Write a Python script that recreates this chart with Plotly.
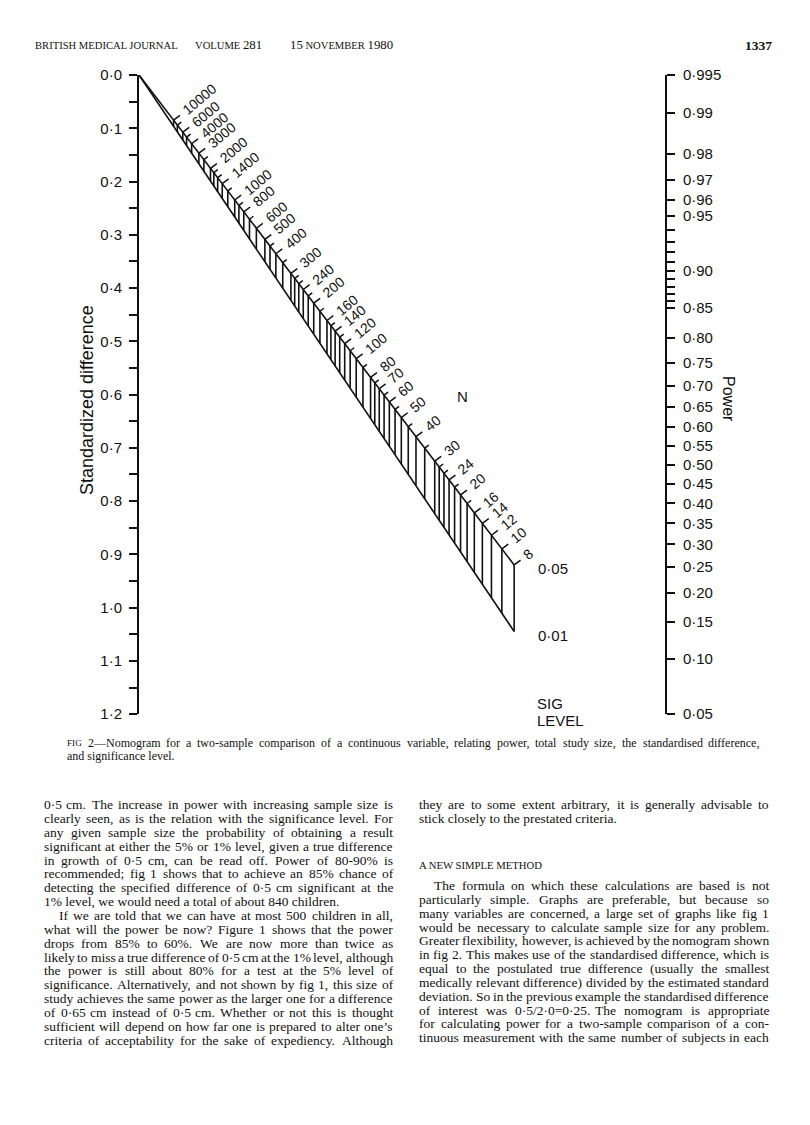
import math
from statistics import NormalDist
import plotly.graph_objects as go

# ---------------- data ----------------
delta_major = [0.0, 0.1, 0.2, 0.3, 0.4, 0.5, 0.6, 0.7, 0.8, 0.9, 1.0, 1.1, 1.2]
delta_labels = ["0·0", "0·1", "0·2", "0·3", "0·4", "0·5", "0·6", "0·7", "0·8", "0·9", "1·0", "1·1", "1·2"]
delta_minor = [0.05, 0.15, 0.25, 0.35, 0.45, 0.55, 0.65, 0.75, 0.85, 0.95, 1.05, 1.15]

power_major = [0.995, 0.99, 0.98, 0.97, 0.96, 0.95, 0.90, 0.85, 0.80, 0.75, 0.70, 0.65,
               0.60, 0.55, 0.50, 0.45, 0.40, 0.35, 0.30, 0.25, 0.20, 0.15, 0.10, 0.05]
power_labels = ["0·995", "0·99", "0·98", "0·97", "0·96", "0·95", "0·90", "0·85", "0·80", "0·75",
                "0·70", "0·65", "0·60", "0·55", "0·50", "0·45", "0·40", "0·35", "0·30", "0·25",
                "0·20", "0·15", "0·10", "0·05"]
power_minor = [0.94, 0.93, 0.92, 0.91, 0.89, 0.88, 0.87, 0.86]

n_major = [10000, 6000, 4000, 3000, 2000, 1400, 1000, 800, 600, 500, 400, 300, 240, 200,
           160, 140, 120, 100, 80, 70, 60, 50, 40, 30, 24, 20, 16, 14, 12, 10, 8]
n_minor = [8000, 5000, 2500, 1800, 1600, 1200, 900, 700, 450, 350, 280, 260, 220, 180,
           150, 130, 110, 90, 75, 65, 55, 45, 35, 28, 26, 22, 18]
sig_levels = [0.05, 0.01]
sig_labels = ["0·05", "0·01"]

header_left = ["BRITISH MEDICAL JOURNAL", "VOLUME", "281", "15", "NOVEMBER", "1980"]
page_number = "1337"
caption_lines = [
    "FIG 2—Nomogram for a two-sample comparison of a continuous variable, relating power, total study size, the standardised difference,",
    "and significance level.",
]
left_col = [
    ("0·5 cm. The increase in power with increasing sample size is", "j"),
    ("clearly seen, as is the relation with the significance level. For", "j"),
    ("any given sample size the probability of obtaining a result", "j"),
    ("significant at either the 5% or 1% level, given a true difference", "j"),
    ("in growth of 0·5 cm, can be read off. Power of 80-90% is", "j"),
    ("recommended; fig 1 shows that to achieve an 85% chance of", "j"),
    ("detecting the specified difference of 0·5 cm significant at the", "j"),
    ("1% level, we would need a total of about 840 children.", "e"),
    ("If we are told that we can have at most 500 children in all,", "ij"),
    ("what will the power be now? Figure 1 shows that the power", "j"),
    ("drops from 85% to 60%. We are now more than twice as", "j"),
    ("likely to miss a true difference of 0·5 cm at the 1% level, although", "j"),
    ("the power is still about 80% for a test at the 5% level of", "j"),
    ("significance. Alternatively, and not shown by fig 1, this size of", "j"),
    ("study achieves the same power as the larger one for a difference", "j"),
    ("of 0·65 cm instead of 0·5 cm. Whether or not this is thought", "j"),
    ("sufficient will depend on how far one is prepared to alter one’s", "j"),
    ("criteria of acceptability for the sake of expediency. Although", "j"),
]
right_col_top = [
    ("they are to some extent arbitrary, it is generally advisable to", "j"),
    ("stick closely to the prestated criteria.", "e"),
]
section_heading = "A NEW SIMPLE METHOD"
right_col = [
    ("The formula on which these calculations are based is not", "ij"),
    ("particularly simple. Graphs are preferable, but because so", "j"),
    ("many variables are concerned, a large set of graphs like fig 1", "j"),
    ("would be necessary to calculate sample size for any problem.", "j"),
    ("Greater flexibility, however, is achieved by the nomogram shown", "j"),
    ("in fig 2. This makes use of the standardised difference, which is", "j"),
    ("equal to the postulated true difference (usually the smallest", "j"),
    ("medically relevant difference) divided by the estimated standard", "j"),
    ("deviation. So in the previous example the standardised difference", "j"),
    ("of interest was 0·5/2·0=0·25. The nomogram is appropriate", "j"),
    ("for calculating power for a two-sample comparison of a con-", "j"),
    ("tinuous measurement with the same number of subjects in each", "j"),
]

# ---------------- page geometry ----------------
W, H = 810, 1125
PX_L, PX_R = 139, 665      # left / right scale lines
PY_T, PY_B = 67, 716       # top / bottom of the scales
SANS = "Liberation Sans"
SERIF = "Liberation Serif"
INK = "#111111"


def px(x):
    return x / W


def py(y):
    return 1 - y / H


zq = NormalDist().inv_cdf
z_top = zq(power_major[0])
z_bot = zq(power_major[-1])
b = 1.2 / (z_top - z_bot)          # power scale expressed in delta units


def t_of(n):
    return 1.0 / (1.0 + b * math.sqrt(n) / 2.0)


def y_of(n, alpha):
    return t_of(n) * b * (z_top + zq(1 - alpha / 2))


fig = go.Figure()

# ---- N scale: two sloping lines, end closure and hatching ----
all_n = sorted(set(n_major + n_minor), reverse=True)
n_end = min(all_n)
lx, ly = [], []
for a in sig_levels:
    lx += [0.0] + [t_of(n) for n in all_n] + [None]
    ly += [0.0] + [y_of(n, a) for n in all_n] + [None]
for n in all_n:
    lx += [t_of(n), t_of(n), None]
    ly += [y_of(n, sig_levels[0]), y_of(n, sig_levels[1]), None]
fig.add_trace(go.Scatter(x=lx, y=ly, mode="lines", line=dict(color=INK, width=1.6),
                         hoverinfo="skip", showlegend=False, xaxis="x", yaxis="y"))
# invisible trace to activate right axis
fig.add_trace(go.Scatter(x=[None], y=[None], xaxis="x", yaxis="y2", showlegend=False,
                         hoverinfo="skip"))

# pixel scales of the axes
sx = PX_R - PX_L
sy = (PY_B - PY_T) / 1.2
k = b * (z_top + zq(1 - sig_levels[0] / 2))
dxp, dyp = sx, sy * k
ln = math.hypot(dxp, dyp)
nx, ny = dyp / ln, dxp / ln           # outward normal (y up, pixels)

shapes = []
for n in all_n:
    L = 8 if n in n_major else 5
    shapes.append(dict(type="line", xref="x", yref="y", xsizemode="pixel", ysizemode="pixel",
                       xanchor=t_of(n), yanchor=y_of(n, sig_levels[0]),
                       x0=0, y0=0, x1=L * nx, y1=L * ny,
                       line=dict(color=INK, width=1.5)))

annotations = []
ang = math.radians(40)
cw = 7.8
for n in n_major:
    s = str(n)
    w = len(s) * cw
    d = 14
    annotations.append(dict(x=t_of(n), y=y_of(n, sig_levels[0]), xref="x", yref="y",
                            text=s, showarrow=False, textangle=-40,
                            xanchor="center", yanchor="middle",
                            xshift=d * nx + w / 2 * math.cos(ang),
                            yshift=d * ny + w / 2 * math.sin(ang),
                            font=dict(family=SANS, size=14, color=INK)))

# sig level labels at the end of each line
for a, lab in zip(sig_levels, sig_labels):
    annotations.append(dict(x=t_of(n_end), y=y_of(n_end, a), xref="x", yref="y",
                            text=lab, showarrow=False, xanchor="left", yanchor="middle",
                            xshift=22, yshift=-4, font=dict(family=SANS, size=15, color=INK)))


def ann_px(x, y, text, size, family=SANS, xanchor="left", angle=0, **kw):
    annotations.append(dict(x=px(x), y=py(y), xref="paper", yref="paper", text=text,
                            showarrow=False, xanchor=xanchor, yanchor="middle",
                            textangle=angle, borderpad=0, borderwidth=0,
                            font=dict(family=family, size=size, color=INK, **kw)))


ann_px(462, 393, "N", 15, xanchor="center")
ann_px(537, 705, "SIG", 15)
ann_px(537, 722, "LEVEL", 15)
ann_px(87, 397, "Standardized difference", 18, xanchor="center", angle=-90)
ann_px(729, 396, "Power", 16, xanchor="center", angle=90)

# ---------------- text of the page ----------------
TW = {' ': 250, '!': 333, '"': 408, '%': 833, '&': 778, "'": 180, '(': 333, ')': 333,
      ',': 250, '-': 333, '.': 250, '/': 278, ':': 278, ';': 278, '=': 564, '?': 444,
      '·': 250, '—': 1000, '’': 333}
for c in "0123456789":
    TW[c] = 500
TW.update(dict(zip("ABCDEFGHIJKLMNOPQRSTUVWXYZ",
                   [722, 667, 667, 722, 611, 556, 722, 722, 333, 389, 722, 611, 889, 722, 722,
                    556, 722, 667, 556, 611, 722, 722, 944, 722, 722, 611])))
TW.update(dict(zip("abcdefghijklmnopqrstuvwxyz",
                   [444, 500, 444, 500, 444, 333, 500, 500, 278, 278, 500, 278, 778, 500, 500,
                    500, 500, 333, 389, 278, 500, 500, 722, 500, 500, 444])))


def tw(s, size):
    return sum(TW.get(c, 500) for c in s) * size / 1000.0


def set_line(text, x0, x1, y, size, justify, sizes=None):
    words = text.split(" ")
    szs = sizes or [size] * len(words)
    if not justify:
        ann_px(x0, y, text, size, family=SERIF)
        return
    widths = [tw(w, s) for w, s in zip(words, szs)]
    gap = (x1 - x0 - sum(widths)) / max(1, len(words) - 1)
    gap = max(gap, 0.2 * size)
    x = x0
    for w, wd, s in zip(words, widths, szs):
        ann_px(x, y, w, s, family=SERIF)
        x += wd + gap


BODY = 13.5
LEAD = 14.05
INDENT = 15
# left column
for i, (line, mode) in enumerate(left_col):
    x0 = 44 + (INDENT if "i" in mode else 0)
    set_line(line, x0, 393, 808 + LEAD * i, BODY, "j" in mode)
# right column
for i, (line, mode) in enumerate(right_col_top):
    set_line(line, 419, 769, 808 + LEAD * i, BODY, "j" in mode)
ann_px(419, 869, section_heading, 10.7, family=SERIF)
for i, (line, mode) in enumerate(right_col):
    x0 = 419 + (INDENT if "i" in mode else 0)
    set_line(line, x0, 769, 890 + LEAD * i, BODY, "j" in mode)

# caption
cap_words = caption_lines[0].split(" ")
set_line(caption_lines[0], 67, 760, 745, 12, True, sizes=[9.2] + [12] * (len(cap_words) - 1))
set_line(caption_lines[1], 67, 760, 758, 12, False)

# running head
ann_px(35, 37, header_left[0], 10.6, family=SERIF)
ann_px(195, 37, header_left[1] + " <span style='font-size:12.8px'>" + header_left[2] + "</span>",
       10.6, family=SERIF)
ann_px(290, 37, "<span style='font-size:12.8px'>" + header_left[3] + "</span> " + header_left[4]
       + " <span style='font-size:12.8px'>" + header_left[5] + "</span>", 10.6, family=SERIF)
ann_px(772, 37, "<b>" + page_number + "</b>", 13.5, family=SERIF, xanchor="right")

# ---------------- layout ----------------
fig.update_layout(
    width=W, height=H, margin=dict(l=0, r=0, t=0, b=0, pad=0),
    paper_bgcolor="white", plot_bgcolor="white", showlegend=False,
    xaxis=dict(domain=[px(PX_L), px(PX_R)], range=[0, 1], visible=False, fixedrange=True),
    yaxis=dict(domain=[py(PY_B), py(PY_T)], range=[1.2, 0], anchor="x", side="left",
               tickvals=delta_major + delta_minor,
               ticktext=delta_labels + [""] * len(delta_minor),
               ticks="outside", ticklen=8, tickwidth=1.6, tickcolor=INK,
               showline=True, linewidth=1.9, linecolor=INK, showgrid=False, zeroline=False,
               tickfont=dict(family=SANS, size=15, color=INK), ticklabelstandoff=4,
               fixedrange=True),
    yaxis2=dict(overlaying="y", anchor="x", side="right", range=[z_bot, z_top],
                tickvals=[zq(p) for p in power_major + power_minor],
                ticktext=power_labels + [""] * len(power_minor),
                ticks="outside", ticklen=8, tickwidth=1.6, tickcolor=INK,
                showline=True, linewidth=1.9, linecolor=INK, showgrid=False, zeroline=False,
                tickfont=dict(family=SANS, size=15, color=INK), ticklabelstandoff=5,
                fixedrange=True),
    shapes=shapes,
    annotations=annotations,
)

fig.write_html("out.html")
